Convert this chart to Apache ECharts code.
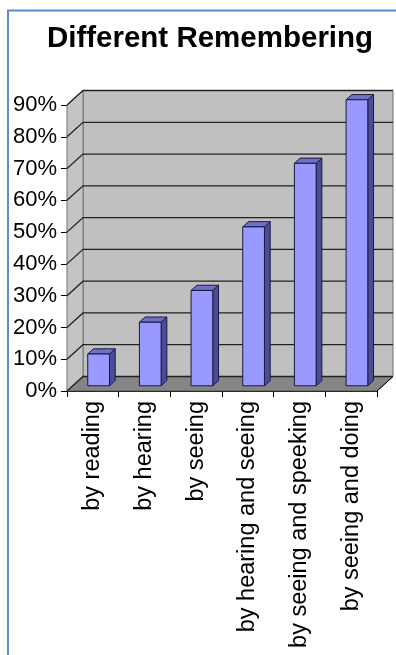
<!DOCTYPE html>
<html>
<head>
<meta charset="utf-8">
<title>Different Remembering</title>
<script src="https://cdn.jsdelivr.net/npm/echarts@6/dist/echarts.min.js"></script>
<style>
  html, body {
    margin: 0;
    padding: 0;
    background: #fff;
  }
  #chart {
    width: 396px;
    height: 655px;
  }
</style>
</head>
<body>
<div id="chart"></div>
<script>
// data
let categories = ['by reading', 'by hearing', 'by seeing', 'by hearing and seeing', 'by seeing and speeking', 'by seeing and doing']
let values = [10, 20, 30, 50, 70, 90]
let yTicks = [0, 10, 20, 30, 40, 50, 60, 70, 80, 90]

// fake 3d depth of the plot box
let depthX = 16
let depthY = -14.5
let font = "'Liberation Sans', Arial, sans-serif"

let myChart = echarts.init(document.getElementById('chart'))

// back wall, side wall and floor
function renderWalls (params, api) {
  let cs = params.coordSys
  let x0 = cs.x
  let x1 = cs.x + cs.width
  let yt = cs.y
  let yb = cs.y + cs.height
  return {
    type: 'group',
    children: [
      {
        type: 'rect',
        shape: { x: x0 + depthX, y: yt + depthY, width: cs.width, height: cs.height },
        style: { fill: '#c0c0c0', stroke: '#707070', lineWidth: 1 }
      },
      {
        type: 'polygon',
        shape: { points: [[x0, yt], [x0 + depthX, yt + depthY], [x0 + depthX, yb + depthY], [x0, yb]] },
        style: { fill: '#c4c4c4', stroke: '#707070', lineWidth: 1 }
      },
      {
        type: 'polygon',
        shape: { points: [[x0, yb], [x1, yb], [x1 + depthX, yb + depthY], [x0 + depthX, yb + depthY]] },
        style: { fill: '#858585', stroke: '#555', lineWidth: 1 }
      },
      {
        type: 'line',
        shape: { x1: x1, y1: yb, x2: x1 + depthX, y2: yb + depthY },
        style: { stroke: '#000', lineWidth: 1 }
      }
    ]
  }
}

// one gridline for each tick: diagonal on side wall, then across the back wall
function renderGrid (params, api) {
  let cs = params.coordSys
  let x0 = cs.x
  let x1 = cs.x + cs.width
  let y = api.coord([0, api.value(0)])[1]
  return {
    type: 'polyline',
    shape: { points: [[x0, y], [x0 + depthX, y + depthY], [x1 + depthX, y + depthY]] },
    style: { stroke: '#222', lineWidth: 1.3, fill: null }
  }
}

function renderBar (params, api) {
  let idx = api.value(0)
  let base = api.coord([idx, 0])
  let top = api.coord([idx, api.value(1)])
  let bw = api.size([1, 0])[0] * 0.42
  let f1 = 0.36
  let f2 = 0.72
  let ox = depthX * f1
  let oy = depthY * f1
  let dx = depthX * (f2 - f1)
  let dy = depthY * (f2 - f1)
  let xl = base[0] - bw / 2 + ox
  let xr = base[0] + bw / 2 + ox
  let yt = top[1] + oy
  let yb = base[1] + oy
  let line = { stroke: '#1a1a40', lineWidth: 1 }
  return {
    type: 'group',
    children: [
      {
        type: 'polygon',
        shape: { points: [[xr, yt], [xr + dx, yt + dy], [xr + dx, yb + dy], [xr, yb]] },
        style: Object.assign({ fill: '#4c4c96' }, line)
      },
      {
        type: 'polygon',
        shape: { points: [[xl, yt], [xr, yt], [xr + dx, yt + dy], [xl + dx, yt + dy]] },
        style: Object.assign({ fill: '#7070c4' }, line)
      },
      {
        type: 'rect',
        shape: { x: xl, y: yt, width: xr - xl, height: yb - yt },
        style: Object.assign({ fill: '#9999ff' }, line)
      }
    ]
  }
}

myChart.setOption({
  animation: false,
  title: {
    text: 'Different Remembering',
    left: 205,
    top: 19,
    textAlign: 'center',
    textStyle: {
      fontFamily: font,
      fontSize: 29.5,
      fontWeight: 'bold',
      color: '#000'
    }
  },
  grid: {
    left: 67,
    top: 105,
    width: 310,
    height: 286
  },
  xAxis: {
    type: 'category',
    data: categories,
    boundaryGap: true,
    axisLine: { lineStyle: { color: '#000', width: 1 } },
    axisTick: { show: true, length: 6, lineStyle: { color: '#000' } },
    axisLabel: {
      rotate: 90,
      margin: 10,
      interval: 0,
      fontFamily: font,
      fontSize: 23.5,
      color: '#000'
    },
    splitLine: { show: false }
  },
  yAxis: {
    type: 'value',
    min: 0,
    max: 90,
    interval: 10,
    axisLine: { show: true, lineStyle: { color: '#000', width: 1 } },
    axisTick: { show: true, length: 6, lineStyle: { color: '#000' } },
    axisLabel: {
      formatter: '{value}%',
      margin: 10,
      fontFamily: font,
      fontSize: 22,
      color: '#000'
    },
    splitLine: { show: false }
  },
  graphic: [
    {
      type: 'polyline',
      shape: { points: [[8, 655], [8, 10.5], [396, 10.5]] },
      style: { stroke: '#5b8bd3', lineWidth: 2, fill: null },
      z: 10
    }
  ],
  series: [
    {
      type: 'custom',
      name: 'walls',
      renderItem: renderWalls,
      data: [[0, 0]],
      silent: true,
      z: 1
    },
    {
      type: 'custom',
      name: 'grid',
      renderItem: renderGrid,
      data: yTicks.map(v => [v]),
      encode: { y: 0 },
      silent: true,
      z: 2
    },
    {
      type: 'custom',
      name: 'remembering',
      renderItem: renderBar,
      data: values.map((v, i) => [i, v]),
      z: 3
    }
  ]
})
</script>
</body>
</html>
